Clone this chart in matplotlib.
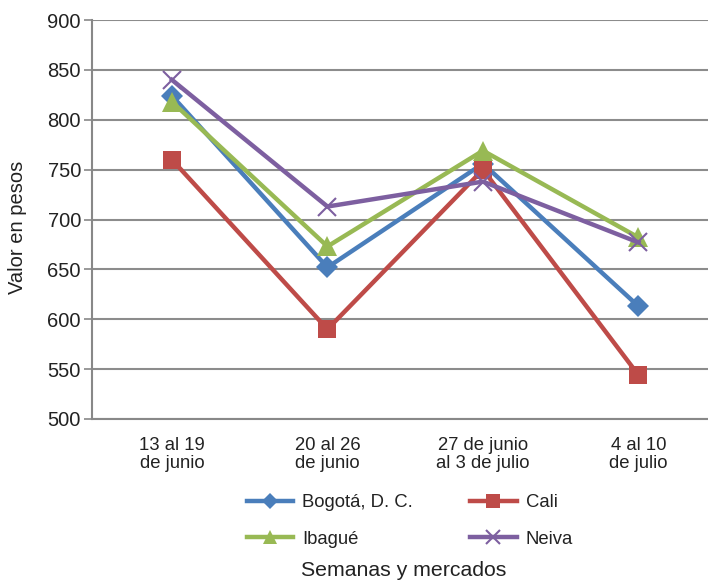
import numpy as np
import matplotlib.pyplot as plt

plt.rcParams['font.family'] = ['Liberation Sans', 'DejaVu Sans']

semanas = ['13 al 19\nde junio', '20 al 26\nde junio', '27 de junio\nal 3 de julio', '4 al 10\nde julio']
bogota = [824, 652, 756, 613]
cali = [760, 590, 750, 544]
ibague = [818, 673, 769, 682]
neiva = [840, 713, 738, 677]

series = [
    ('Bogotá, D. C.', bogota, '#4a7ebb', 'D', 11),
    ('Cali', cali, '#be4b48', 's', 13),
    ('Ibagué', ibague, '#98b954', '^', 14),
    ('Neiva', neiva, '#7d5fa0', 'x', 13),
]

fig = plt.figure(figsize=(7.08, 5.81), dpi=100)
ax = fig.add_axes([92 / 708, 162 / 581, 616 / 708, 399 / 581])

x = np.arange(len(semanas))
handles = []
for i, (nombre, vals, col, mk, ms) in enumerate(series):
    h, = ax.plot(x, vals, color=col, lw=3.2, marker=mk, ms=ms,
                 mew=1.5 if mk == 'x' else 0, mec=col, label=nombre, zorder=3 + i)
    handles.append(h)

ax.set_xlim(-0.514, 3.447)
ax.set_ylim(500, 900)
ax.set_yticks(np.arange(500, 901, 50))
ax.set_xticks(x)
ax.set_xticklabels(semanas, fontsize=13.3, color='#222222', linespacing=1.05)
ax.tick_params(axis='x', length=0, pad=13)
ax.tick_params(axis='y', length=6, width=1.2, color='#888888', labelsize=14.5,
               labelcolor='#222222', pad=2)
ax.grid(axis='y', color='#8c8c8c', lw=1.5)
ax.set_axisbelow(True)
for s in ['top', 'right']:
    ax.spines[s].set_visible(False)
for s in ['left', 'bottom']:
    ax.spines[s].set_color('#888888')
    ax.spines[s].set_linewidth(1.5)

ax.set_ylabel('Valor en pesos', fontsize=14.5, color='#222222')
ax.yaxis.set_label_coords(-0.106, 0.48)

# orden por columnas para que las filas queden Bogotá/Cali e Ibagué/Neiva
orden = [handles[0], handles[2], handles[1], handles[3]]
leg = fig.legend(handles=orden, ncol=2,
                 loc='center', bbox_to_anchor=(410 / 708, 1 - 521 / 581), frameon=False,
                 fontsize=13.3, handlelength=2.5, columnspacing=3.1, labelspacing=1.05,
                 markerscale=0.75, handletextpad=0.5)
for t in leg.get_texts():
    t.set_color('#222222')

fig.text(404 / 708, 1 - 570 / 581, 'Semanas y mercados', ha='center', va='center',
         fontsize=15.3, color='#222222')

fig.savefig('out.png', dpi=100)
